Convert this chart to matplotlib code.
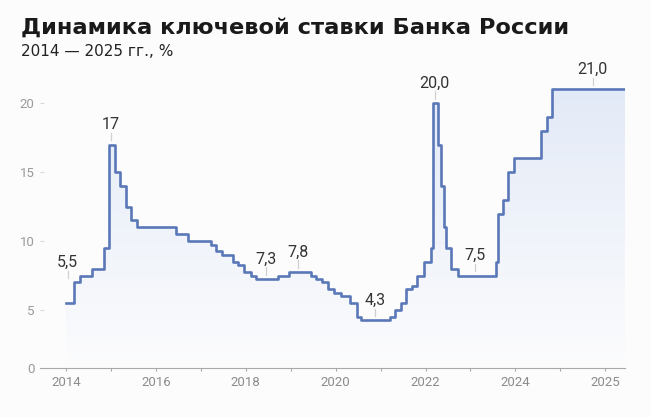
import numpy as np
import pandas as pd
import matplotlib
matplotlib.use("Agg")
import matplotlib.pyplot as plt
from matplotlib.path import Path
from matplotlib.patches import PathPatch
from matplotlib.transforms import offset_copy

# Key rate decisions: effective date and new rate, %
rate_dates = [
    "2014-01-01", "2014-03-03", "2014-04-28", "2014-07-28", "2014-11-05",
    "2014-12-16", "2015-02-02", "2015-03-16", "2015-05-05", "2015-06-16",
    "2015-08-03", "2016-06-14", "2016-09-19", "2017-03-27", "2017-05-02",
    "2017-06-19", "2017-09-18", "2017-10-30", "2017-12-18", "2018-02-12",
    "2018-03-26", "2018-09-17", "2018-12-17", "2019-06-17", "2019-07-29",
    "2019-09-09", "2019-10-28", "2019-12-16", "2020-02-10", "2020-04-27",
    "2020-06-22", "2020-07-27", "2021-03-22", "2021-04-26", "2021-06-15",
    "2021-07-26", "2021-09-13", "2021-10-25", "2021-12-20", "2022-02-14",
    "2022-02-28", "2022-04-11", "2022-05-04", "2022-05-27", "2022-06-14",
    "2022-07-25", "2022-09-19", "2023-07-24", "2023-08-15", "2023-09-18",
    "2023-10-30", "2023-12-18", "2024-07-29", "2024-09-16", "2024-10-28",
]
rate_values = [
    5.5, 7.0, 7.5, 8.0, 9.5,
    17.0, 15.0, 14.0, 12.5, 11.5,
    11.0, 10.5, 10.0, 9.75, 9.25,
    9.0, 8.5, 8.25, 7.75, 7.5,
    7.25, 7.5, 7.75, 7.5, 7.25,
    7.0, 6.5, 6.25, 6.0, 5.5,
    4.5, 4.25, 4.5, 5.0, 5.5,
    6.5, 6.75, 7.5, 8.5, 9.5,
    20.0, 17.0, 14.0, 11.0, 9.5,
    8.0, 7.5, 8.5, 12.0, 13.0,
    15.0, 16.0, 18.0, 19.0, 21.0,
]
series_end = "2026-06-10"

# Callouts: label text, date, rate the marker stands on
note_labels = ["5,5", "17", "7,3", "7,8", "4,3", "20,0", "7,5", "21,0"]
note_dates = ["2014-01-15", "2014-12-28", "2018-06-13", "2019-03-03",
              "2020-11-20", "2022-03-15", "2023-02-10", "2025-09-20"]
note_rates = [7.0, 17.0, 7.25, 7.75, 4.25, 20.0, 7.5, 21.0]

x_tick_years = [2014, 2016, 2018, 2020, 2022, 2024, 2026]
x_tick_labels = ["2014", "2016", "2018", "2020", "2022", "2024", "2025"]
y_tick_values = [0.79, 5, 10, 15, 20]
y_tick_labels = ["0", "5", "10", "15", "20"]

title = "Динамика ключевой ставки Банка России"
subtitle = "2014 — 2025 гг., %"


def to_year(s):
    d = pd.Timestamp(s)
    n = 366 if d.is_leap_year else 365
    return d.year + (d.dayofyear - 1) / n


x = np.array([to_year(d) for d in rate_dates] + [to_year(series_end)])
y = np.array(rate_values + [rate_values[-1]])

plt.rcParams["font.family"] = ["Roboto", "DejaVu Sans"]

BG = "#fcfcfd"
LINE = "#5a78b8"

fig = plt.figure(figsize=(6.5, 4.17), dpi=100, facecolor=BG)
ax = fig.add_axes([40 / 650, 49 / 417, 585 / 650, 308 / 417], facecolor=BG)

xmin, xmax = 2013.42, x[-1]
ymin, ymax = 0.79, 23.14
ax.set_xlim(xmin, xmax)
ax.set_ylim(ymin, ymax)

# gradient fill under the stepped line
grad = np.linspace(1, 0, 256).reshape(-1, 1)
top_c = np.array(matplotlib.colors.to_rgb("#e3eaf7"))
bot_c = np.array(matplotlib.colors.to_rgb(BG))
img = top_c * grad[..., None] + bot_c * (1 - grad[..., None])
im = ax.imshow(img, extent=[xmin, xmax, ymin, 21.0], aspect="auto",
               origin="upper", zorder=1)
xs = np.repeat(x, 2)[1:]
ys = np.repeat(y, 2)[:-1]
verts = np.column_stack([np.r_[xs, xs[-1], xs[0]], np.r_[ys, ymin, ymin]])
clip = PathPatch(Path(verts), transform=ax.transData, facecolor="none",
                 edgecolor="none")
ax.add_patch(clip)
im.set_clip_path(clip)

ax.step(x, y, where="post", color=LINE, lw=1.9, zorder=3)

# callouts: short grey stem above the line with the value on top
for lab, d, r in zip(note_labels, note_dates, note_rates):
    xv = to_year(d)
    lo = offset_copy(ax.transData, fig=fig, x=0, y=3, units="points")
    hi = offset_copy(ax.transData, fig=fig, x=0, y=8.5, units="points")
    inv = fig.transFigure.inverted()
    a = inv.transform(lo.transform((xv, r)))
    b = inv.transform(hi.transform((xv, r)))
    fig.add_artist(plt.Line2D([a[0], b[0]], [a[1], b[1]],
                              transform=fig.transFigure,
                              color="#d0d0d0", lw=0.9))
    ax.annotate(lab, xy=(xv, r), xytext=(0, 14.5), textcoords="offset points",
                ha="center", va="center", fontsize=11.5, color="#333333",
                annotation_clip=False, zorder=5)

for s in ["top", "right", "left"]:
    ax.spines[s].set_visible(False)
ax.spines["bottom"].set_color("#a8a8a8")
ax.spines["bottom"].set_linewidth(0.8)

ax.set_xticks(x_tick_years)
ax.set_xticklabels(x_tick_labels)
ax.set_xticks([2015, 2017, 2019, 2021, 2023, 2025], minor=True)
ax.tick_params(axis="x", which="both", length=2.5, width=0.8, color="#a8a8a8",
               labelsize=9.5, labelcolor="#8c8c8c", pad=3)
ax.set_yticks(y_tick_values)
ax.set_yticklabels(y_tick_labels)
ax.tick_params(axis="y", length=3, width=0.8, color="#d8d8d8", direction="in",
               labelsize=9.5, labelcolor="#9a9a9a", pad=4)

# title and subtitle sized to their set widths
renderer = fig.canvas.get_renderer()


def fitted_text(ypix, s, width_px, size, **kw):
    t = fig.text(21 / 650, 1 - ypix / 417, s, fontsize=size, va="center",
                 ha="left", **kw)
    w = t.get_window_extent(renderer).width
    t.set_fontsize(size * width_px / w)
    return t


fitted_text(27.5, title, 547, 15, fontweight="bold", color="#1a1a1a",
            family=["DejaVu Sans"])
fitted_text(51.5, subtitle, 154, 9.5, color="#222222",
            family=["DejaVu Sans"])

fig.savefig("out.png", dpi=100, facecolor=BG)
